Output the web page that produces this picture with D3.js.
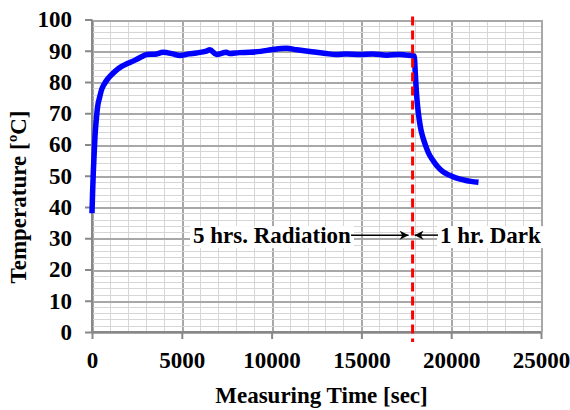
<!doctype html>
<html lang="en">
<head>
  <meta charset="utf-8">
  <title>Temperature vs measuring time</title>
  <style>
    body { margin: 0; background: #fff; }
    svg text { font-family: "Liberation Serif", "Times New Roman", serif; font-weight: bold; fill: #000; }
    .grid line { shape-rendering: crispEdges; }
    .axis path, .axis line { stroke: #888; stroke-width: 2px; }
  </style>
</head>
<body>
  <svg id="chart" width="570" height="410"></svg>

  <script src="https://d3js.org/d3.v7.min.js"></script>
  <script>
    var timeSec = [0, 30, 72, 120, 167, 240, 315, 420, 537, 700, 850, 1000, 1300, 1650, 2000, 2400,
      2850, 3040, 3500, 3960, 4500, 4890, 5400, 5810, 6370, 6560, 6930, 7480, 7670, 8200, 8780, 9400,
      10070, 10810, 11400, 11920, 12500, 13040, 13600, 14150, 14900, 15630, 16400, 17110, 17500, 17760,
      17940, 18000, 18060, 18130, 18220, 18315, 18450, 18590, 18760, 18960, 19200, 19520, 19900, 20260,
      20500, 20810, 21100, 21520]
    var tempC = [38, 44, 51, 57, 62.6, 68, 72.2, 75, 77.6, 79.5, 80.8, 81.8, 83.5, 85, 86, 87,
      88.3, 88.8, 88.9, 89.5, 89.0, 88.5, 89.0, 89.3, 89.9, 90.3, 88.8, 89.5, 89.1, 89.4, 89.5, 89.8,
      90.4, 90.8, 90.3, 89.9, 89.5, 89.1, 88.8, 89.0, 88.8, 89.0, 88.6, 88.8, 88.6, 88.5,
      88.3, 83, 77, 72.2, 68, 64.7, 61.8, 59.4, 57, 55.1, 53.2, 51.4, 50.2, 49.3,
      48.9, 48.5, 48.2, 47.9]

    var xTicks = [0, 5000, 10000, 15000, 20000, 25000]
    var yTicks = [0, 10, 20, 30, 40, 50, 60, 70, 80, 90, 100]
    var lightsOff = 17850       // end of the radiation period
    var labelTemp = 31          // height of the annotation arrows
    var leftLabel = "5 hrs. Radiation"
    var rightLabel = "1 hr. Dark"

    var svg = d3.select("#chart")
    var x = d3.scaleLinear().domain([0, 25000]).range([92, 541])
    var y = d3.scaleLinear().domain([0, 100]).range([332, 19.5])

    // grid
    var grid = svg.append("g").attr("class", "grid")
    grid.selectAll(".vmin").data(d3.range(0, 25001, 1000)).enter().append("line")
      .attr("x1", d => Math.round(x(d)) + 0.5).attr("x2", d => Math.round(x(d)) + 0.5)
      .attr("y1", y(100)).attr("y2", y(0))
      .attr("stroke", d => d % 5000 ? "#d6d6d6" : "#a8a8a8")
      .attr("stroke-width", d => d % 5000 ? 1.5 : 2)
    grid.selectAll(".hmin").data(d3.range(0, 101, 2)).enter().append("line")
      .attr("y1", d => Math.round(y(d)) + 0.5).attr("y2", d => Math.round(y(d)) + 0.5)
      .attr("x1", x(0)).attr("x2", x(25000))
      .attr("stroke", d => d % 10 ? "#d6d6d6" : "#a8a8a8")
      .attr("stroke-width", d => d % 10 ? 1.5 : 2)

    // axes
    var yAxis = svg.append("g").attr("class", "axis")
      .attr("transform", "translate(" + x(0) + ",0)")
      .call(d3.axisLeft(y).tickValues(yTicks).tickSize(7).tickSizeOuter(0).tickPadding(13))
    yAxis.selectAll("text").style("font-size", "23px")

    var xAxis = svg.append("g").attr("class", "axis")
      .attr("transform", "translate(0," + y(0) + ")")
      .call(d3.axisBottom(x).tickValues(xTicks).tickFormat(d3.format("d")).tickSize(7).tickSizeOuter(0).tickPadding(13))
    xAxis.selectAll("text").style("font-size", "23px")
    yAxis.select(".domain").attr("d", "M0," + y(0) + "V" + y(100))
    xAxis.select(".domain").attr("d", "M" + x(0) + ",0H" + x(25000))

    // curve
    var line = d3.line()
      .x(d => x(d[0]))
      .y(d => y(d[1]))
      .curve(d3.curveMonotoneX)
    svg.append("path")
      .datum(d3.zip(timeSec, tempC))
      .attr("d", line)
      .attr("fill", "none")
      .attr("stroke", "#0000ff")
      .attr("stroke-width", 5.5)
      .attr("stroke-linejoin", "round")

    // red dashed marker
    svg.append("line")
      .attr("x1", x(lightsOff)).attr("x2", x(lightsOff))
      .attr("y1", y(101)).attr("y2", y(-3.2))
      .attr("stroke", "#ff0000").attr("stroke-width", 3)
      .attr("stroke-dasharray", "9,5")

    // annotation
    var defs = svg.append("defs")
    defs.append("marker").attr("id", "arr")
      .attr("viewBox", "0 0 10 10").attr("refX", 10).attr("refY", 5)
      .attr("markerWidth", 10).attr("markerHeight", 9).attr("markerUnits", "userSpaceOnUse")
      .attr("orient", "auto")
      .append("path").attr("d", "M0,0L10,5L0,10L3,5Z").attr("fill", "#000")

    var ay = y(labelTemp)
    var note = svg.append("g")
    var lt = note.append("text").attr("x", 193).attr("y", ay + 8)
      .style("font-size", "23px").text(leftLabel)
    var rt = note.append("text").attr("x", 440).attr("y", ay + 8)
      .style("font-size", "23px").text(rightLabel)
    ;[lt, rt].forEach(function(t) {
      var b = t.node().getBBox()
      note.insert("rect", function() { return t.node() })
        .attr("x", b.x - 3).attr("y", b.y + 3).attr("width", b.width + 6).attr("height", b.height - 3)
        .attr("fill", "#fff")
    })
    var lb = lt.node().getBBox(), rb = rt.node().getBBox()
    note.append("line")
      .attr("x1", lb.x + lb.width).attr("x2", x(lightsOff) - 4)
      .attr("y1", ay).attr("y2", ay)
      .attr("stroke", "#000").attr("stroke-width", 1.5).attr("marker-end", "url(#arr)")
    note.append("line")
      .attr("x1", rb.x - 2).attr("x2", x(lightsOff) + 2)
      .attr("y1", ay).attr("y2", ay)
      .attr("stroke", "#000").attr("stroke-width", 1.5).attr("marker-end", "url(#arr)")

    // axis titles
    svg.append("text")
      .attr("x", (x(0) + x(25000)) / 2 + 5).attr("y", 403)
      .attr("text-anchor", "middle").style("font-size", "23px")
      .text("Measuring Time [sec]")
    svg.append("text")
      .attr("transform", "translate(26,197) rotate(-90)")
      .attr("text-anchor", "middle").style("font-size", "23px")
      .text("Temperature [ºC]")
  </script>
</body>
</html>
